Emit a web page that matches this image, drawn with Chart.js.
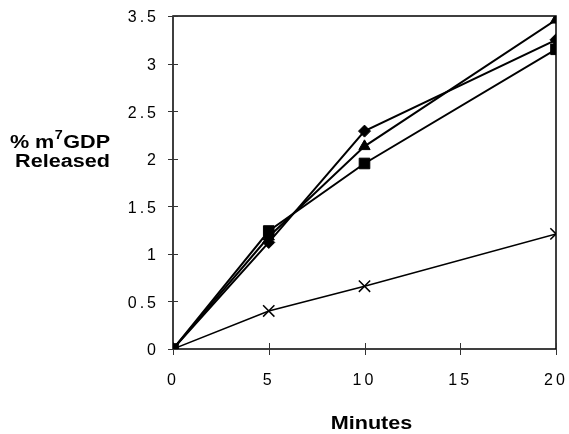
<!DOCTYPE html>
<html>
<head>
<meta charset="utf-8">
<script src="https://cdn.jsdelivr.net/npm/chart.js@4/dist/chart.umd.min.js"></script>
<style>
html,body{margin:0;padding:0;background:#fff;}
#wrap{width:569px;height:434px;position:relative;}
</style>
</head>
<body>
<div id="wrap"><canvas id="c" width="569" height="434"></canvas></div>
<script>
const minutes = [0, 5, 10, 20];
const diamondSeries = [0, 1.12, 2.29, 3.25];
const triangleSeries = [0, 1.18, 2.13, 3.46];
const squareSeries = [0, 1.24, 1.95, 3.15];
const crossSeries = [0, 0.40, 0.66, 1.21];
const xTicks = [0, 5, 10, 15, 20];
const yTicks = [0, 0.5, 1, 1.5, 2, 2.5, 3, 3.5];
const xTitle = 'Minutes';
const yTitleParts = ['% m', '7', 'GDP'];
const yTitleLine2 = 'Released';

const FONT = 'Arial, "Liberation Sans", sans-serif';
const SX = 1.2;

function pts(arr){ return minutes.map((m,i)=>({x:m,y:arr[i]})); }

const frame = {
  id:'frame',
  beforeDraw(chart){ chart.ctx.letterSpacing = '3px'; },
  beforeDatasetsDraw(chart){
    const {ctx, chartArea:a, scales:{x,y}} = chart;
    ctx.save();
    ctx.letterSpacing = '0px';
    ctx.strokeStyle = '#000';
    ctx.lineWidth = 1.5;
    ctx.strokeRect(a.left, a.top, a.right-a.left, a.bottom-a.top);
    ctx.lineWidth = 1;
    ctx.strokeStyle = '#333';
    ctx.beginPath();
    yTicks.forEach(v=>{ const py = Math.round(y.getPixelForValue(v))+0.5; ctx.moveTo(a.left-5, py); ctx.lineTo(a.left+5, py); });
    xTicks.forEach(v=>{ const px = Math.round(x.getPixelForValue(v))+0.5; ctx.moveTo(px, a.bottom-6); ctx.lineTo(px, a.bottom+6); });
    ctx.stroke();
    ctx.restore();
  },
  afterDraw(chart){
    const ctx = chart.ctx;
    ctx.save();
    ctx.fillStyle = '#000';
    ctx.letterSpacing = '0px';
    ctx.textBaseline = 'alphabetic';
    ctx.textAlign = 'left';
    const big = 'bold 18px ' + FONT, small = 'bold 12px ' + FONT;
    function txt(t, font, x, y){
      ctx.save(); ctx.font = font; ctx.translate(x, y); ctx.scale(SX, 1); ctx.fillText(t, 0, 0); ctx.restore();
    }
    function w(t, font){ ctx.font = font; return ctx.measureText(t).width * SX; }
    const w1 = w(yTitleParts[0], big), w2 = w(yTitleParts[1], small) + 1, w3 = w(yTitleParts[2], big);
    const cx = 60;
    const sx = cx - (w1+w2+w3)/2;
    txt(yTitleParts[0], big, sx, 148);
    txt(yTitleParts[1], small, sx + w1 + 0.5, 139);
    txt(yTitleParts[2], big, sx + w1 + w2, 148);
    const wl2 = w(yTitleLine2, big);
    txt(yTitleLine2, big, 62.5 - wl2/2, 167);
    const wx = w(xTitle, big);
    txt(xTitle, big, 371.5 - wx/2, 429);
    ctx.restore();
  }
};

const common = {borderColor:'#000', backgroundColor:'#000', pointBackgroundColor:'#000', pointBorderColor:'#000', tension:0, fill:false};

new Chart(document.getElementById('c'), {
  type:'line',
  data:{
    datasets:[
      Object.assign({label:'cross', data:pts(crossSeries), borderWidth:1.5, pointStyle:'crossRot', pointRadius:8, pointBorderWidth:1.5}, common),
      Object.assign({label:'diamond', data:pts(diamondSeries), borderWidth:2, pointStyle:'rectRot', pointRadius:6, pointBorderWidth:1}, common),
      Object.assign({label:'triangle', data:pts(triangleSeries), borderWidth:2, pointStyle:'triangle', pointRadius:6.5, pointBorderWidth:1}, common),
      Object.assign({label:'square', data:pts(squareSeries), borderWidth:2, pointStyle:'rect', pointRadius:7.5, pointBorderWidth:1}, common)
    ]
  },
  options:{
    responsive:false,
    animation:false,
    devicePixelRatio:1,
    layout:{padding:{left:0, top:16, right:13, bottom:0}},
    plugins:{legend:{display:false}, tooltip:{enabled:false}},
    scales:{
      x:{
        type:'linear', min:0, max:20,
        afterBuildTicks(s){ s.ticks = xTicks.map(v=>({value:v})); },
        afterFit(s){ s.height = 85; s.paddingLeft = 0; s.paddingRight = 0; },
        grid:{display:false, drawTicks:false},
        border:{display:false},
        ticks:{color:'#000', font:{family:FONT, size:16}, padding:22, maxRotation:0, autoSkip:false, callback:v=>String(v)}
      },
      y:{
        type:'linear', min:0, max:3.5,
        afterBuildTicks(s){ s.ticks = yTicks.map(v=>({value:v})); },
        afterFit(s){ s.width = 173; s.paddingTop = 0; s.paddingBottom = 0; },
        grid:{display:false, drawTicks:false},
        border:{display:false},
        ticks:{color:'#000', font:{family:FONT, size:16}, padding:14, labelOffset:2, autoSkip:false, callback:v=>String(v)}
      }
    }
  },
  plugins:[frame]
});
</script>
</body>
</html>
